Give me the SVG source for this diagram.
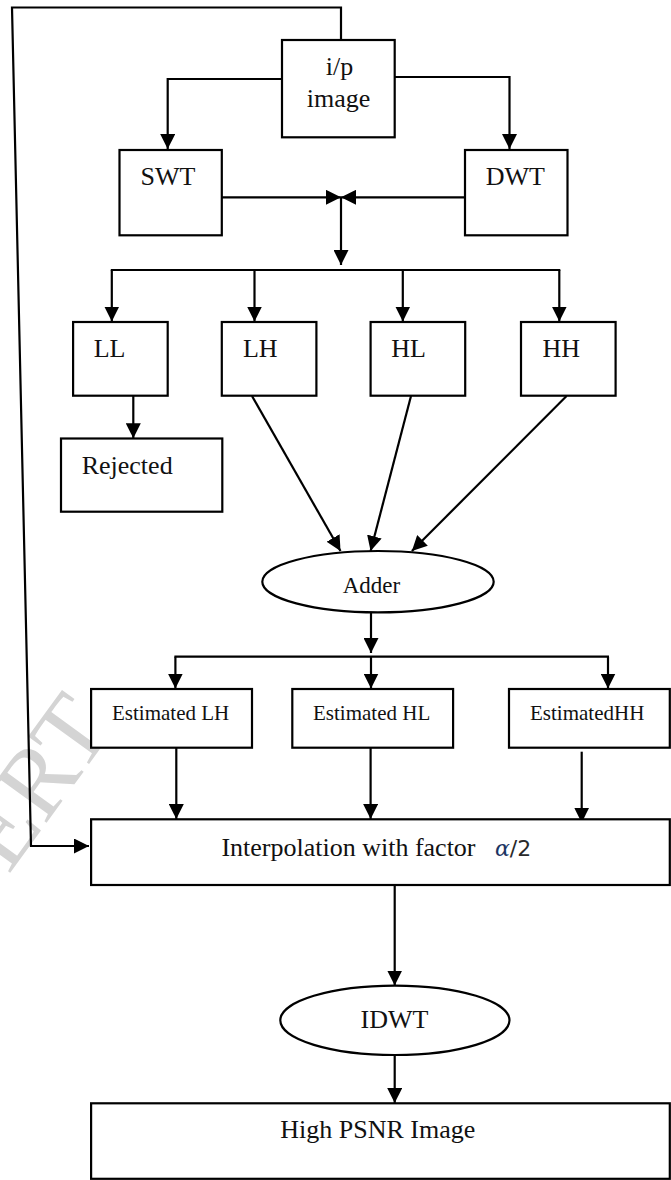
<svg xmlns="http://www.w3.org/2000/svg" width="671" height="1180" viewBox="0 0 671 1180">
<style>
.box{fill:#fff;stroke:#000;stroke-width:2.2}
.ln{fill:none;stroke:#000;stroke-width:2.2}
.t{font-family:"Liberation Serif","Times New Roman",serif;font-size:26px;fill:#111}
.ts{font-family:"Liberation Serif","Times New Roman",serif;font-size:21px;fill:#111}
</style>
<defs>
<marker id="ah" markerUnits="userSpaceOnUse" markerWidth="16" markerHeight="15" refX="15" refY="7.5" orient="auto">
<path d="M0,0 L15,7.5 L0,15 z" fill="#000"/>
</marker>
</defs>
<rect width="671" height="1180" fill="#fff"/>
<text transform="translate(116,727) rotate(-54)" text-anchor="end" font-family="Liberation Serif, serif" font-size="100" fill="#d4d4d4">IJERT</text>

<g id="connectors">
<polyline class="ln" points="341,40 341,7.5 12,7.5 31,846 89,846" marker-end="url(#ah)"/>
<polyline class="ln" points="282,79 167.7,79 167.7,149" marker-end="url(#ah)"/>
<polyline class="ln" points="394.7,77 509.5,77 509.5,149" marker-end="url(#ah)"/>
<line class="ln" x1="221.8" y1="197.3" x2="341" y2="197.3" marker-end="url(#ah)"/>
<line class="ln" x1="465" y1="197.3" x2="341" y2="197.3" marker-end="url(#ah)"/>
<line class="ln" x1="341" y1="197.3" x2="341" y2="265" marker-end="url(#ah)"/>
<line class="ln" x1="110.8" y1="270" x2="560.3" y2="270"/>
<line class="ln" x1="111.8" y1="270" x2="111.8" y2="321.5" marker-end="url(#ah)"/>
<line class="ln" x1="254.5" y1="270" x2="254.5" y2="321.5" marker-end="url(#ah)"/>
<line class="ln" x1="402.8" y1="270" x2="402.8" y2="321.5" marker-end="url(#ah)"/>
<line class="ln" x1="559.3" y1="270" x2="559.3" y2="321.5" marker-end="url(#ah)"/>
<line class="ln" x1="133.3" y1="396" x2="133.3" y2="438.3" marker-end="url(#ah)"/>
<line class="ln" x1="252" y1="396" x2="340.5" y2="551" marker-end="url(#ah)"/>
<line class="ln" x1="411" y1="396" x2="370.6" y2="551" marker-end="url(#ah)"/>
<line class="ln" x1="566.6" y1="396" x2="411.9" y2="551" marker-end="url(#ah)"/>
<line class="ln" x1="371" y1="612.3" x2="371" y2="653" marker-end="url(#ah)"/>
<line class="ln" x1="174.4" y1="656.7" x2="609" y2="656.7"/>
<line class="ln" x1="175.4" y1="656.7" x2="175.4" y2="688.5" marker-end="url(#ah)"/>
<line class="ln" x1="371" y1="656.7" x2="371" y2="688.5" marker-end="url(#ah)"/>
<line class="ln" x1="608" y1="656.7" x2="608" y2="688.5" marker-end="url(#ah)"/>
<line class="ln" x1="176.3" y1="748" x2="176.3" y2="819" marker-end="url(#ah)"/>
<line class="ln" x1="370.6" y1="748" x2="370.6" y2="819" marker-end="url(#ah)"/>
<line class="ln" x1="581.7" y1="751.7" x2="581.7" y2="822.7" marker-end="url(#ah)"/>
<line class="ln" x1="394.7" y1="885" x2="394.7" y2="985.5" marker-end="url(#ah)"/>
<line class="ln" x1="394.7" y1="1055" x2="394.7" y2="1103" marker-end="url(#ah)"/>
</g>

<g id="ip-image">
<rect class="box" x="282" y="40" width="112.7" height="97.3"/>
<text class="t" x="339.5" y="75" text-anchor="middle">i/p</text>
<text class="t" x="338.5" y="107" text-anchor="middle">image</text>
</g>
<g id="swt">
<rect class="box" x="119.5" y="150" width="102.3" height="85.3"/>
<text class="t" x="140.6" y="185">SWT</text>
</g>
<g id="dwt">
<rect class="box" x="465" y="150" width="102.5" height="85.3"/>
<text class="t" x="485.8" y="185">DWT</text>
</g>
<g id="ll">
<rect class="box" x="73.1" y="322" width="94.6" height="73.7"/>
<text class="t" x="93.7" y="356.7">LL</text>
</g>
<g id="lh">
<rect class="box" x="221.8" y="322" width="94.6" height="73.7"/>
<text class="t" x="242.9" y="356.7">LH</text>
</g>
<g id="hl">
<rect class="box" x="370.6" y="322" width="94.6" height="73.7"/>
<text class="t" x="391.2" y="356.7">HL</text>
</g>
<g id="hh">
<rect class="box" x="521" y="322" width="94.6" height="73.7"/>
<text class="t" x="542.6" y="356.7">HH</text>
</g>
<g id="rejected">
<rect class="box" x="61" y="438.5" width="161.3" height="73.2"/>
<text class="t" x="81.7" y="474.3">Rejected</text>
</g>
<g id="adder">
<ellipse class="box" cx="378" cy="581.7" rx="115.7" ry="30.7"/>
<text class="t" x="371.5" y="593" text-anchor="middle" style="font-size:23px">Adder</text>
</g>
<g id="est-lh">
<rect class="box" x="91.1" y="689" width="160.9" height="58.7"/>
<text class="ts" x="112" y="720">Estimated LH</text>
</g>
<g id="est-hl">
<rect class="box" x="292.3" y="689" width="160.8" height="58.7"/>
<text class="ts" x="313" y="720">Estimated HL</text>
</g>
<g id="est-hh">
<rect class="box" x="509" y="689" width="160.8" height="58.7"/>
<text class="ts" x="530" y="720">EstimatedHH</text>
</g>
<g id="interpolation">
<rect class="box" x="91.1" y="819.3" width="578.7" height="65.7"/>
<text class="t" x="221.4" y="856">Interpolation with factor</text>
<text x="495" y="856" font-family="DejaVu Serif, serif" font-size="22"><tspan fill="#1c3563" font-style="italic">α</tspan><tspan fill="#2a2a2a" font-family="DejaVu Sans, sans-serif">/2</tspan></text>
</g>
<g id="idwt">
<ellipse class="box" cx="394.9" cy="1020.3" rx="114.6" ry="34.7"/>
<text class="t" x="394.5" y="1028.3" text-anchor="middle">IDWT</text>
</g>
<g id="high-psnr">
<rect class="box" x="91.1" y="1103.3" width="578.7" height="75.5"/>
<text class="t" x="280.3" y="1138.3">High PSNR Image</text>
</g>
</svg>
